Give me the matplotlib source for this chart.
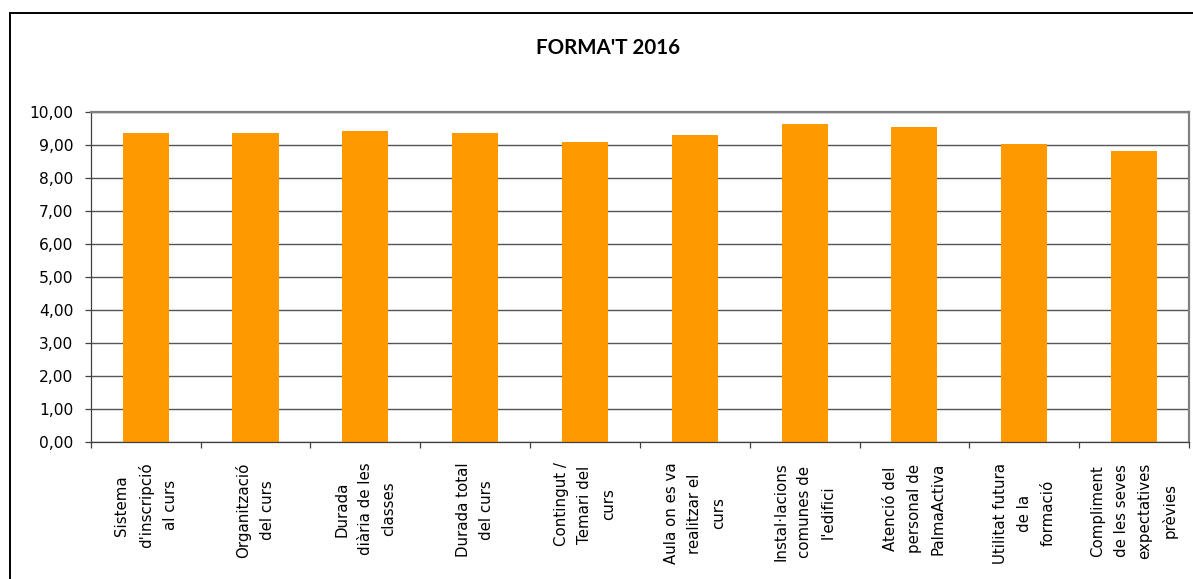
import matplotlib.pyplot as plt
import numpy as np
from matplotlib.lines import Line2D

# dades
categories = [
    "Sistema\nd'inscripció\nal curs",
    "Organització\ndel curs",
    "Durada\ndiària de les\nclasses",
    "Durada total\ndel curs",
    "Contingut /\nTemari del\ncurs",
    "Aula on es va\nrealitzar el\ncurs",
    "Instal·lacions\ncomunes de\nl'edifici",
    "Atenció del\npersonal de\nPalmaActiva",
    "Utilitat futura\nde la\nformació",
    "Compliment\nde les seves\nexpectatives\nprèvies",
]
valors = [9.34, 9.34, 9.43, 9.34, 9.07, 9.28, 9.62, 9.53, 9.01, 8.80]
yticks = list(range(0, 11))
titol = "FORMA'T 2016"

W, H = 1193, 579
fig = plt.figure(figsize=(W / 100, H / 100), dpi=100)

left, right, top, bottom = 90.7, 1189, 111.7, 441.7
ax = fig.add_axes([left / W, 1 - bottom / H, (right - left) / W, (bottom - top) / H])

x = np.arange(len(valors))
ax.bar(x, valors, width=0.42, color='#FF9900', zorder=2)

ax.set_xlim(-0.5, len(valors) - 0.5)
ax.set_ylim(0, 10)
ax.set_yticks(yticks)
ax.set_yticklabels([f"{v:.2f}".replace('.', ',') for v in yticks])
ax.yaxis.grid(True, color='#555555', linewidth=1.0, zorder=0)
ax.set_axisbelow(True)

ax.set_xticks(x)
ax.set_xticklabels(categories, rotation=90, linespacing=1.72)
ax.set_xticks(np.arange(-0.5, len(valors), 1), minor=True)
ax.tick_params(axis='x', which='major', length=0, pad=15, labelsize=10.8)
ax.tick_params(axis='x', which='minor', length=4.5, width=0.9, color='#404040', direction='out')
ax.tick_params(axis='y', length=4.5, width=0.9, color='#404040', pad=8, labelsize=11.2)
for lbl in ax.get_xticklabels():
    lbl.set_multialignment('center')

for s in ['left', 'bottom']:
    ax.spines[s].set_color('#404040')
    ax.spines[s].set_linewidth(0.9)
for s in ['top', 'right']:
    ax.spines[s].set_color('#808080')
    ax.spines[s].set_linewidth(1.6)

# vora del gràfic
fig.add_artist(Line2D([10 / W, 10 / W], [1 - 13 / H, 0], color='black', linewidth=1.4))
fig.add_artist(Line2D([10 / W, 1], [1 - 13 / H, 1 - 13 / H], color='black', linewidth=1.4))

fig.text(608 / W, 1 - 48 / H, titol, ha='center', va='center', fontsize=14.8,
         fontweight='bold', family='Lato')

fig.savefig('out.png', dpi=100)
